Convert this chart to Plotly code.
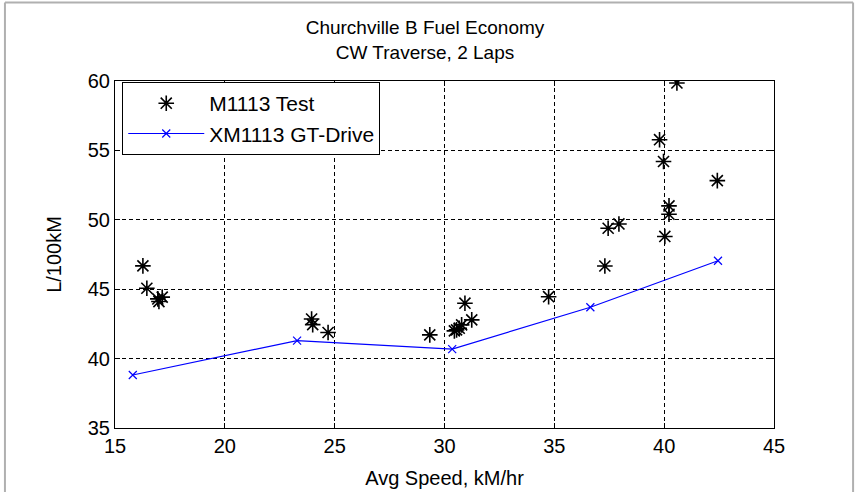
import plotly.graph_objects as go

# M1113 Test (scatter, stars)
test_speed = [16.27, 16.45, 17.0, 17.15, 16.95, 23.95, 24.0, 24.7,
              29.33, 30.45, 30.55, 30.67, 30.78, 31.24, 30.93,
              34.74, 37.3, 37.45, 37.94,
              39.79, 39.97, 40.22, 40.22, 40.03, 40.58, 42.42]
test_fuel = [46.68, 45.07, 44.11, 44.43, 44.3, 42.85, 42.45, 41.88,
             41.71, 42.0, 42.07, 42.19, 42.43, 42.79, 43.99,
             44.46, 46.67, 49.39, 49.7,
             55.77, 54.2, 51.0, 50.4, 48.8, 59.86, 52.82]

# XM1113 GT-Drive (line with x markers)
gt_speed = [15.81, 23.29, 30.35, 36.64, 42.45]
gt_fuel = [38.82, 41.3, 40.68, 43.7, 47.05]

x_ticks = [15, 20, 25, 30, 35, 40, 45]
y_ticks = [35, 40, 45, 50, 55, 60]

FONT = "Arial, Liberation Sans, sans-serif"
FS = 20

fig = go.Figure()
fig.add_trace(go.Scatter(
    x=test_speed, y=test_fuel, mode="markers", name="M1113 Test",
    marker=dict(symbol="asterisk-open", size=13, color="black",
                line=dict(color="black", width=1.6)),
))
fig.add_trace(go.Scatter(
    x=gt_speed, y=gt_fuel, mode="lines+markers", name="XM1113 GT-Drive",
    line=dict(color="#0000ff", width=1.2),
    marker=dict(symbol="x-thin-open", size=8, color="#0000ff",
                line=dict(color="#0000ff", width=1.2)),
))

axis_common = dict(
    showline=True, linecolor="black", linewidth=1, mirror="ticks",
    ticks="inside", ticklen=5, tickcolor="black",
    showgrid=True, gridcolor="black", gridwidth=1, griddash="4px,3px",
    zeroline=False, automargin=False,
    tickfont=dict(family=FONT, size=FS, color="black"),
)

fig.update_layout(
    width=856, height=492,
    paper_bgcolor="white", plot_bgcolor="white",
    margin=dict(l=115, r=82, t=81, b=64),
    font=dict(family=FONT, size=FS, color="black"),
    title=dict(text="Churchville B Fuel Economy<br>CW Traverse, 2 Laps",
               x=0.4965, xanchor="center", xref="container",
               y=0.93, yanchor="top",
               font=dict(family=FONT, size=19, color="black")),
    xaxis=dict(range=[15, 45], tickvals=x_ticks,
               title=dict(text="Avg Speed, kM/hr", standoff=14,
                          font=dict(family=FONT, size=FS)),
               **axis_common),
    yaxis=dict(range=[35, 60], tickvals=y_ticks,
               title=dict(text="L/100kM", standoff=20,
                          font=dict(family=FONT, size=FS)),
               **axis_common),
    legend=dict(x=0.011, y=0.997, xanchor="left", yanchor="top",
                bgcolor="white", bordercolor="black", borderwidth=1,
                itemwidth=76,
                font=dict(family=FONT, size=21, color="black")),
    showlegend=True,
)

# outer window frame
fig.add_shape(type="line", xref="paper", yref="paper",
              x0=-0.167, x1=-0.167, y0=-0.3, y1=1.226,
              line=dict(color="#b0b0b0", width=2))
fig.add_shape(type="line", xref="paper", yref="paper",
              x0=1.12, x1=1.12, y0=-0.3, y1=1.226,
              line=dict(color="#b0b0b0", width=2))
fig.add_shape(type="line", xref="paper", yref="paper",
              x0=-0.167, x1=1.12, y0=1.226, y1=1.226,
              line=dict(color="#b0b0b0", width=2))

fig.write_html("out.html", config={"displayModeBar": False},
               post_script="document.body.style.margin='0';document.body.style.overflow='hidden';")
